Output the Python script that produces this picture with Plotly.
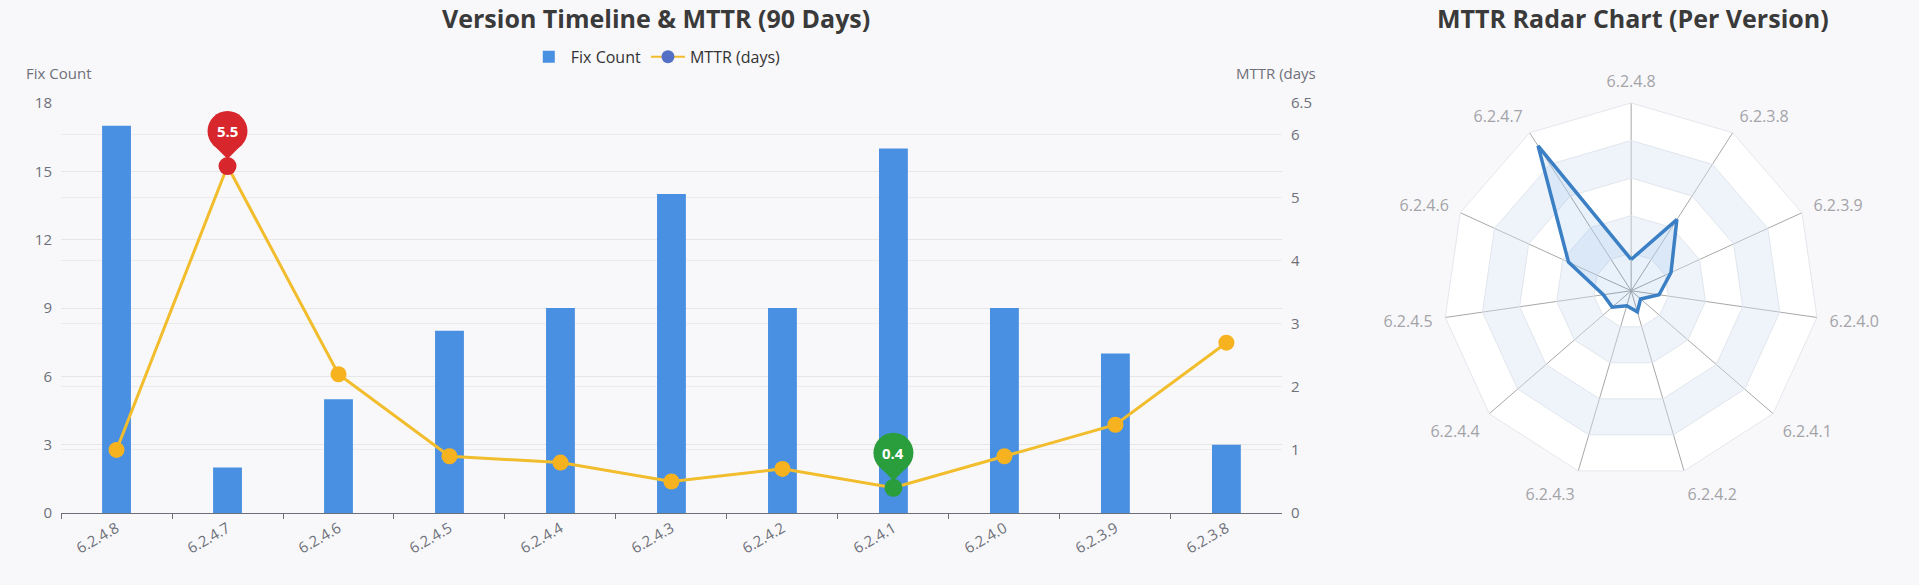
import plotly.graph_objects as go

# release data (90 days)
versions = ["6.2.4.8", "6.2.4.7", "6.2.4.6", "6.2.4.5", "6.2.4.4", "6.2.4.3",
            "6.2.4.2", "6.2.4.1", "6.2.4.0", "6.2.3.9", "6.2.3.8"]
fix_count = [17, 2, 5, 8, 9, 14, 9, 16, 9, 7, 3]
mttr = [1.0, 5.5, 2.2, 0.9, 0.8, 0.5, 0.7, 0.4, 0.9, 1.4, 2.7]

y1_ticks = [0, 3, 6, 9, 12, 15, 18]
y2_ticks = [0, 1, 2, 3, 4, 5, 6, 6.5]
radar_rings = [1.2, 2.4, 3.6, 4.8, 6.0]

FONT = "Open Sans"
BAR = "#4a90e2"
LINE = "#f2bd2c"
DOT = "#f7b21f"
RED = "#d7262c"
GREEN = "#2a9d3c"
AXIS_TXT = "#6e7079"

imax = mttr.index(max(mttr))
imin = mttr.index(min(mttr))
dot_colors = [DOT] * len(mttr)
dot_sizes = [16] * len(mttr)
dot_colors[imax] = RED
dot_colors[imin] = GREEN
dot_sizes[imax] = 18
dot_sizes[imin] = 18

fig = go.Figure()

fig.add_trace(go.Bar(x=versions, y=fix_count, name="Fix Count",
                     marker=dict(color=BAR, line=dict(width=0)),
                     xaxis="x", yaxis="y"))
fig.add_trace(go.Scatter(x=versions, y=mttr, mode="lines+markers", showlegend=False,
                         line=dict(color=LINE, width=3),
                         marker=dict(color=dot_colors, size=dot_sizes, opacity=1, line=dict(width=0)),
                         xaxis="x", yaxis="y2"))
# legend entry only (echarts shows default palette dot)
fig.add_trace(go.Scatter(x=[None], y=[None], mode="lines+markers", name="MTTR (days)",
                         line=dict(color=LINE, width=2),
                         marker=dict(color="#5470c6", size=13),
                         xaxis="x", yaxis="y2"))

# radar split areas
closed = versions + versions[:1]
band_pairs = [(radar_rings[2], radar_rings[3]), (radar_rings[0], radar_rings[1])]
for inner, outer in band_pairs:
    fig.add_trace(go.Scatterpolar(r=[inner] * len(closed), theta=closed, mode="lines",
                                  line=dict(width=0), showlegend=False, hoverinfo="skip"))
    fig.add_trace(go.Scatterpolar(r=[outer] * len(closed), theta=closed, mode="lines",
                                  fill="tonext", fillcolor="rgba(214,228,244,0.4)",
                                  line=dict(width=0), showlegend=False, hoverinfo="skip"))

fig.add_trace(go.Scatterpolar(r=mttr + mttr[:1], theta=closed, mode="lines",
                              fill="toself", fillcolor="rgba(74,144,226,0.12)",
                              line=dict(color="#3b7fc4", width=3.5), showlegend=False))

# markPoint pins for max / min
shapes = []
annotations = []
for idx, col in [(imax, RED), (imin, GREEN)]:
    shapes.append(dict(type="circle", xref="x", yref="y2", xsizemode="pixel", ysizemode="pixel",
                       xanchor=versions[idx], yanchor=mttr[idx],
                       x0=-20, x1=20, y0=15, y1=55, fillcolor=col, line=dict(width=0),
                       layer="above"))
    shapes.append(dict(type="path", xref="x", yref="y2", xsizemode="pixel", ysizemode="pixel",
                       xanchor=versions[idx], yanchor=mttr[idx],
                       path="M -15,22 L 15,22 L 0,7 Z", fillcolor=col, line=dict(width=0),
                       layer="above"))
    annotations.append(dict(x=versions[idx], y=mttr[idx], xref="x", yref="y2", yshift=35,
                            text="<b>%s</b>" % mttr[idx], showarrow=False,
                            font=dict(family=FONT, size=15, color="white")))

annotations += [
    dict(text="<b>Version Timeline & MTTR (90 Days)</b>", x=0.342, y=0.969, xref="paper",
         yref="paper", xanchor="center", yanchor="middle", showarrow=False,
         font=dict(family=FONT, size=25, color="#3a3a3a")),
    dict(text="<b>MTTR Radar Chart (Per Version)</b>", x=0.851, y=0.969, xref="paper",
         yref="paper", xanchor="center", yanchor="middle", showarrow=False,
         font=dict(family=FONT, size=25, color="#3a3a3a")),
    dict(text="Fix Count", x=0.0125, y=0.875, xref="paper", yref="paper", xanchor="left",
         yanchor="middle", showarrow=False, font=dict(family=FONT, size=15, color=AXIS_TXT)),
    dict(text="MTTR (days", x=0.643, y=0.875, xref="paper", yref="paper", xanchor="left",
         yanchor="middle", showarrow=False, font=dict(family=FONT, size=15, color=AXIS_TXT)),
]

fig.update_layout(
    width=1919, height=585,
    margin=dict(l=0, r=0, t=0, b=0, autoexpand=False),
    paper_bgcolor="#f8f8fa", plot_bgcolor="#f8f8fa",
    font=dict(family=FONT, color=AXIS_TXT),
    bargap=0.74,
    showlegend=True,
    legend=dict(orientation="h", x=0.342, xanchor="center", y=0.903, yanchor="middle",
                font=dict(family=FONT, size=16, color="#333"), bgcolor="rgba(0,0,0,0)",
                itemwidth=34),
    xaxis=dict(domain=[0.0318, 0.668], type="category", range=[-0.5, len(versions) - 0.5],
               showgrid=False, automargin=False,
               showline=True, linecolor=AXIS_TXT, linewidth=1,
               ticks="outside", tickson="boundaries", ticklen=5, tickcolor=AXIS_TXT,
               tickangle=-30, tickfont=dict(size=15, color=AXIS_TXT), anchor="y"),
    yaxis=dict(domain=[0.123, 0.824], range=[0, 18], tickvals=y1_ticks, automargin=False,
               gridcolor="#e6e6e6", zeroline=False, showline=False,
               tickfont=dict(size=15, color=AXIS_TXT), ticklabelstandoff=8),
    yaxis2=dict(overlaying="y", side="right", range=[0, 6.5], tickvals=y2_ticks,
                automargin=False, gridcolor="#ececec", zeroline=False, showline=False,
                tickfont=dict(size=15, color=AXIS_TXT), ticklabelstandoff=8, anchor="x"),
    polar=dict(
        domain=dict(x=[0.752, 0.948], y=[0.182, 0.824]),
        bgcolor="white",
        gridshape="linear",
        radialaxis=dict(range=[0, 6], tickvals=radar_rings, showticklabels=False, ticks="",
                        showline=False, gridcolor="#e4e7eb"),
        angularaxis=dict(rotation=90, direction="counterclockwise", gridcolor="#a8a8a8",
                         linecolor="#e4e7eb", ticks="outside", ticklen=9,
                         tickcolor="rgba(0,0,0,0)",
                         tickfont=dict(size=16, color="#a3a3a8")),
    ),
    shapes=shapes,
    annotations=annotations,
)

fig.write_html("out.html", config={"displayModeBar": False},
               post_script="document.body.style.margin='0';")
